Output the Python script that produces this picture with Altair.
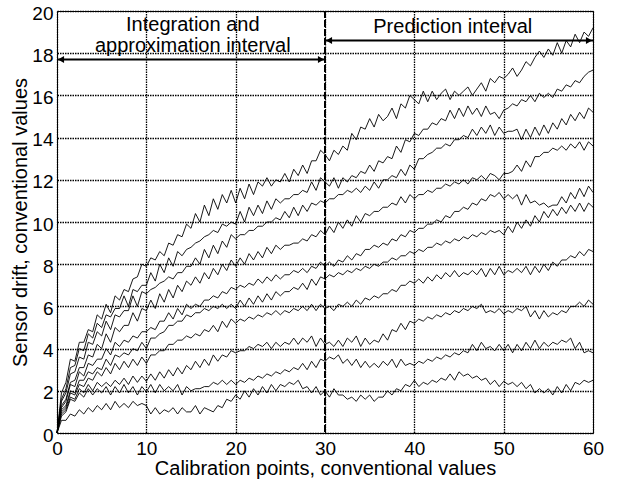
import altair as alt
import pandas as pd

# ---- data (x = 0, 0.5, ..., 60) ----
X_VALUES = [i / 2 for i in range(121)]

L1 = [0, 1.9, 2.4, 3.5, 3.4, 4.3, 4.3, 4.9, 4.8, 5.6,
      5.4, 6.1, 5.7, 6.5, 6.3, 6.8, 6.7, 7.3, 7.4, 8.0,
      7.9, 8.3, 8.2, 8.6, 8.4, 9.0, 8.9, 9.4, 9.3, 9.9,
      9.7, 10.4, 10.0, 10.8, 10.3, 11.1, 10.6, 11.3, 10.9, 11.5,
      10.9, 11.6, 11.1, 11.8, 11.3, 11.9, 11.7, 12.1, 11.7, 12.0,
      11.9, 12.3, 11.9, 12.5, 12.2, 12.7, 12.3, 12.9, 12.9, 13.4,
      13.2, 12.9, 13.4, 13.2, 13.6, 13.4, 14.2, 13.9, 14.5, 14.4,
      14.9, 14.5, 15.1, 14.8, 15.0, 15.4, 14.9, 15.6, 15.4, 16.0,
      15.8, 15.6, 16.2, 15.7, 16.2, 15.8, 16.1, 16.3, 15.8, 16.2,
      16.0, 16.2, 16.4, 16.0, 16.3, 16.6, 16.2, 16.8, 16.6, 16.9,
      16.8, 17.0, 17.3, 16.9, 17.2, 17.6, 17.4, 17.8, 18.1, 17.8,
      18.2, 17.9, 18.5, 18.0, 18.6, 18.3, 18.9, 18.5, 19.0, 18.8,
      19.2]
L2 = [0, 1.6, 2.1, 3.1, 3.2, 4.0, 3.9, 4.7, 4.5, 5.2,
      5.0, 5.6, 5.5, 5.9, 5.9, 6.5, 6.0, 6.8, 6.7, 7.0,
      7.0, 7.6, 7.2, 8.0, 7.6, 8.3, 7.9, 8.6, 8.4, 8.7,
      8.8, 9.0, 9.1, 9.3, 9.4, 9.6, 9.5, 9.9, 9.8, 10.0,
      9.9, 10.5, 10.0, 10.7, 10.3, 10.8, 10.4, 11.0, 10.6, 11.1,
      10.9, 11.1, 11.1, 11.3, 11.3, 11.5, 11.4, 11.9, 11.5, 12.1,
      11.9, 11.7, 12.1, 11.6, 12.1, 11.9, 12.2, 12.1, 12.4, 12.3,
      12.7, 12.4, 12.9, 12.8, 13.1, 13.0, 13.6, 13.3, 13.9, 13.8,
      14.2, 14.1, 14.4, 14.4, 14.7, 14.6, 14.9, 14.8, 15.3, 14.9,
      15.4, 15.0, 15.5, 15.1, 15.4, 15.0, 15.5, 15.1, 15.2, 14.9,
      15.3, 15.4, 15.6, 15.5, 15.8, 15.7, 16.0, 15.7, 16.1, 15.9,
      16.1, 15.9, 16.3, 16.2, 16.5, 16.4, 16.7, 16.6, 16.9, 17.1,
      17.2]
L3 = [0, 1.5, 1.9, 2.8, 2.9, 3.6, 3.5, 4.3, 4.2, 4.8,
      4.6, 5.3, 4.9, 5.6, 5.5, 5.8, 5.8, 6.5, 6.0, 6.7,
      6.6, 6.8, 6.9, 7.1, 7.2, 7.4, 7.3, 7.6, 7.6, 7.9,
      7.9, 8.3, 8.0, 8.7, 8.3, 8.9, 8.5, 9.1, 8.8, 9.4,
      9.2, 9.4, 9.4, 9.6, 9.6, 9.8, 9.8, 10.0, 10.0, 10.2,
      10.1, 10.5, 10.2, 10.7, 10.3, 10.8, 10.5, 10.9, 10.8, 11.0,
      10.9, 11.1, 11.1, 11.3, 11.3, 11.5, 11.4, 11.6, 11.4, 11.7,
      11.5, 11.9, 11.6, 12.0, 12.0, 12.2, 12.1, 12.5, 12.2, 12.7,
      12.5, 13.0, 13.0, 13.2, 13.3, 13.5, 13.5, 13.7, 13.6, 13.9,
      13.9, 14.1, 14.0, 14.4, 14.1, 14.5, 14.2, 14.6, 14.1, 14.5,
      14.2, 14.3, 14.3, 14.4, 13.9, 14.4, 14.0, 14.5, 14.1, 14.6,
      14.2, 14.7, 14.4, 14.9, 14.6, 15.1, 14.8, 15.2, 14.9, 15.4,
      15.2]
L4 = [0, 1.3, 1.6, 2.4, 2.5, 3.1, 3.1, 3.7, 3.6, 4.2,
      4.0, 4.7, 4.3, 5.0, 4.8, 5.1, 5.1, 5.7, 5.3, 5.9,
      5.8, 6.3, 5.9, 6.6, 6.2, 6.8, 6.4, 7.0, 6.7, 7.2,
      7.0, 7.4, 7.1, 7.6, 7.3, 7.8, 7.5, 8.0, 7.7, 8.2,
      7.9, 8.3, 8.0, 8.5, 8.2, 8.6, 8.3, 8.8, 8.5, 8.9,
      8.7, 8.9, 8.9, 9.0, 9.0, 9.2, 9.1, 9.4, 9.3, 9.6,
      9.4, 9.8, 9.5, 10.0, 9.7, 10.1, 9.8, 10.3, 10.0, 10.4,
      10.3, 10.5, 10.5, 10.7, 10.7, 10.9, 10.8, 11.2, 10.9, 11.3,
      11.1, 11.3, 11.3, 11.5, 11.4, 11.6, 11.6, 11.8, 11.7, 11.9,
      11.8, 12.0, 11.8, 12.1, 12.0, 12.2, 12.0, 12.3, 12.2, 12.0,
      12.3, 12.3, 12.4, 12.7, 12.4, 12.9, 12.6, 13.1, 13.1, 13.3,
      13.3, 13.5, 13.4, 13.6, 13.4, 13.7, 13.5, 13.8, 13.4, 13.8,
      13.6]
L5 = [0, 1.2, 1.5, 2.3, 2.2, 2.9, 2.7, 3.3, 3.2, 3.5,
      3.5, 4.0, 3.7, 4.3, 4.1, 4.4, 4.3, 4.6, 4.5, 4.8,
      4.8, 5.0, 4.9, 5.3, 5.3, 5.7, 5.4, 5.9, 5.6, 6.1,
      5.9, 6.1, 6.0, 6.3, 6.3, 6.5, 6.4, 6.7, 6.6, 6.9,
      6.8, 7.0, 6.9, 7.1, 7.0, 7.3, 7.1, 7.4, 7.2, 7.5,
      7.3, 7.5, 7.5, 7.7, 7.6, 7.8, 7.6, 7.9, 7.8, 8.1,
      7.9, 8.1, 7.9, 8.2, 8.1, 8.4, 8.2, 8.5, 8.4, 8.7,
      8.7, 8.9, 8.8, 9.0, 8.9, 9.2, 9.1, 9.4, 9.3, 9.6,
      9.5, 9.7, 9.7, 9.9, 9.9, 10.1, 10.0, 10.3, 10.2, 10.5,
      10.5, 10.7, 10.6, 10.9, 10.8, 11.1, 11.0, 11.3, 11.2, 11.4,
      11.1, 11.3, 11.1, 11.3, 10.8, 11.3, 10.9, 11.0, 10.8, 10.9,
      10.7, 10.8, 10.8, 11.2, 10.9, 11.4, 11.1, 11.6, 11.2, 11.7,
      11.4]
L6 = [0, 1.1, 1.3, 2.0, 1.9, 2.5, 2.5, 2.9, 2.8, 3.1,
      3.0, 3.5, 3.2, 3.7, 3.6, 3.8, 3.7, 4.0, 3.9, 4.3,
      4.0, 4.5, 4.5, 4.7, 4.8, 5.1, 5.1, 5.3, 5.3, 5.6,
      5.5, 5.7, 5.7, 5.9, 5.8, 6.0, 5.9, 6.1, 5.9, 6.1,
      5.9, 6.3, 6.0, 6.4, 6.1, 6.5, 6.2, 6.6, 6.3, 6.7,
      6.5, 6.7, 6.7, 6.9, 6.8, 7.1, 6.8, 7.3, 7.0, 7.4,
      7.3, 7.5, 7.4, 7.6, 7.5, 7.7, 7.6, 7.8, 7.7, 7.9,
      7.8, 8.0, 7.9, 8.1, 8.1, 8.3, 8.2, 8.4, 8.4, 8.6,
      8.5, 8.7, 8.6, 8.8, 8.8, 9.0, 8.9, 9.1, 9.0, 9.2,
      9.1, 9.3, 9.2, 9.4, 9.3, 9.5, 9.4, 9.6, 9.5, 9.6,
      9.4, 9.8, 9.5, 10.0, 9.7, 10.1, 9.8, 10.3, 10.0, 10.5,
      10.2, 10.6, 10.3, 10.7, 10.4, 10.8, 10.5, 10.9, 10.5, 10.9,
      10.7]
L7 = [0, 1.0, 1.2, 1.9, 1.8, 2.3, 2.2, 2.6, 2.5, 2.9,
      2.7, 3.1, 2.8, 3.3, 3.0, 3.4, 3.1, 3.5, 3.2, 3.6,
      3.3, 3.7, 3.7, 3.9, 3.9, 4.2, 4.2, 4.4, 4.4, 4.6,
      4.5, 4.7, 4.6, 4.9, 4.8, 5.1, 4.8, 5.3, 5.0, 5.4,
      5.2, 5.4, 5.3, 5.5, 5.4, 5.6, 5.5, 5.7, 5.6, 5.8,
      5.6, 5.8, 5.7, 5.9, 5.8, 6.0, 5.8, 6.1, 5.8, 6.1,
      5.9, 6.0, 5.8, 6.1, 6.0, 6.2, 6.0, 6.3, 6.1, 6.4,
      6.3, 6.5, 6.4, 6.6, 6.6, 6.8, 6.7, 7.0, 7.0, 7.2,
      7.1, 7.3, 7.1, 7.4, 7.2, 7.5, 7.3, 7.6, 7.4, 7.7,
      7.4, 7.6, 7.5, 7.7, 7.5, 7.8, 7.4, 7.8, 7.5, 7.9,
      7.5, 7.7, 7.6, 7.8, 7.6, 7.9, 7.5, 7.9, 7.6, 8.0,
      7.7, 8.1, 7.9, 8.2, 8.2, 8.4, 8.3, 8.6, 8.4, 8.7,
      8.6]
L8 = [0, 0.9, 1.1, 1.7, 1.6, 2.1, 1.9, 2.3, 2.0, 2.4,
      2.2, 2.4, 2.2, 2.5, 2.3, 2.6, 2.3, 2.7, 2.4, 2.7,
      2.45, 2.8, 2.5, 2.9, 2.6, 3.0, 2.7, 3.1, 2.8, 3.2,
      3.0, 3.4, 3.1, 3.5, 3.2, 3.7, 3.4, 3.7, 3.6, 3.9,
      3.8, 3.9, 3.9, 4.1, 4.0, 4.2, 4.1, 4.3, 4.0, 4.3,
      4.1, 4.3, 4.2, 4.5, 4.2, 4.5, 4.3, 4.6, 4.1, 4.5,
      4.2, 4.3, 4.1, 4.4, 4.1, 4.5, 4.3, 4.6, 4.1, 4.5,
      4.2, 4.4, 4.3, 4.7, 4.4, 4.9, 4.8, 5.2, 4.9, 5.3,
      5.2, 5.4, 5.3, 5.5, 5.4, 5.6, 5.5, 5.7, 5.6, 5.8,
      5.7, 5.9, 5.8, 6.0, 5.9, 6.1, 5.7, 5.8, 5.7, 5.9,
      5.65, 5.8, 5.7, 5.9, 5.8, 6.0, 5.5, 5.8, 5.4, 5.8,
      5.5, 5.7, 5.6, 5.8, 5.7, 6.0, 6.0, 6.2, 6.0, 6.3,
      6.1]
L9 = [0, 0.8, 1.0, 1.6, 1.5, 1.9, 1.7, 2.1, 1.8, 2.1,
      1.9, 2.2, 1.8, 2.2, 1.9, 2.3, 1.9, 2.2, 1.8, 2.2,
      1.95, 2.3, 1.9, 2.3, 2.0, 2.2, 2.0, 2.3, 1.8, 2.2,
      2.0, 2.1, 2.1, 2.2, 2.2, 2.4, 2.3, 2.5, 2.3, 2.5,
      2.3, 2.5, 2.4, 2.6, 2.5, 2.7, 2.6, 2.8, 2.7, 2.9,
      2.8, 3.0, 2.9, 3.1, 3.0, 3.3, 3.0, 3.4, 3.1, 3.5,
      3.4, 3.6, 3.5, 3.7, 3.3, 3.5, 3.2, 3.5, 3.1, 3.4,
      3.1, 3.3, 3.1, 3.4, 3.2, 3.5, 3.1, 3.5, 3.2, 3.3,
      3.2, 3.4, 3.3, 3.5, 3.4, 3.6, 3.5, 3.7, 3.6, 3.8,
      3.7, 3.9, 3.8, 4.2, 3.9, 4.3, 4.0, 4.1, 3.9, 4.2,
      3.9, 4.2, 3.8, 4.2, 3.9, 4.3, 4.0, 4.4, 4.0, 4.3,
      4.1, 4.3, 4.2, 4.4, 4.3, 4.5, 4.0, 4.3, 3.8, 3.9,
      3.8]
L10 = [0, 0.6, 0.6, 0.9, 0.8, 1.1, 0.9, 1.2, 1.0, 1.3,
       1.1, 1.4, 1.1, 1.5, 1.2, 1.4, 1.2, 1.5, 1.3, 1.4,
       1.3, 0.9, 1.2, 0.9, 1.1, 1.0, 1.2, 0.9, 1.2, 1.0,
       1.0, 1.3, 0.9, 1.2, 1.1, 1.0, 1.3, 1.2, 1.6, 1.5,
       1.8, 1.6, 2.0, 1.7, 2.1, 1.8, 2.2, 1.9, 2.3, 2.0,
       2.3, 2.2, 2.4, 2.3, 2.5, 2.1, 2.2, 1.9, 2.2, 1.8,
       2.0, 1.7, 2.1, 1.8, 1.8, 1.6, 1.7, 1.5, 1.8, 1.6,
       1.8, 1.5, 1.7, 1.7, 2.0, 1.8, 2.1, 2.0, 2.3, 2.2,
       2.5, 2.2, 2.4, 2.3, 2.5, 2.4, 2.6, 2.5, 2.8, 2.5,
       2.9, 2.7, 2.8, 2.6, 2.7, 2.5, 2.6, 2.3, 2.5, 2.2,
       2.45, 2.3, 2.4, 2.2, 2.4, 2.1, 2.3, 1.9, 2.1, 1.9,
       2.1, 1.8, 2.2, 1.9, 2.3, 2.0, 2.4, 2.3, 2.5, 2.4,
       2.5]

SERIES = [L1, L2, L3, L4, L5, L6, L7, L8, L9, L10]

X_TICKS = [0, 10, 20, 30, 40, 50, 60]
Y_TICKS = [0, 2, 4, 6, 8, 10, 12, 14, 16, 18, 20]
BOUNDARY = [30]

ARROW_START = [0, 30]
ARROW_END = [30, 60]
ARROW_LEVEL = [17.7, 18.6]

LABEL_TEXT = ["Integration and", "approximation interval", "Prediction interval"]
LABEL_X = [15.2, 15.2, 44.3]
LABEL_Y = [19.05, 18.06, 18.96]

# ---- tables ----
rows = []
for k, s in enumerate(SERIES):
    for xv, yv in zip(X_VALUES, s):
        rows.append({"x": xv, "y": yv, "s": "L%d" % (k + 1)})
df = pd.DataFrame(rows)

arrows = pd.DataFrame({"x": ARROW_START, "x2": ARROW_END, "y": ARROW_LEVEL})
heads_left = pd.DataFrame({"x": ARROW_START, "y": ARROW_LEVEL})
heads_right = pd.DataFrame({"x": ARROW_END, "y": ARROW_LEVEL})
labels = pd.DataFrame({"x": LABEL_X, "y": LABEL_Y, "t": LABEL_TEXT})
bound = pd.DataFrame({"x": BOUNDARY})

FONT = "Liberation Sans"
XT = "Calibration points, conventional values"
YT = "Sensor drift, conventional values"
xs = alt.Scale(domain=[0, 60], nice=False, zero=False)
ys = alt.Scale(domain=[0, 20], nice=False, zero=False)
x_axis = alt.Axis(
    values=X_TICKS, grid=True, gridDash=[1.5, 1], gridColor="black", gridOpacity=1, gridWidth=1.3,
    ticks=False, domain=False, labelPadding=6, labelFlush=False,
    labelFontSize=19, titleFontSize=20, titlePadding=0,
    labelFont=FONT, titleFont=FONT, titleFontWeight="normal",
    labelColor="black", titleColor="black")
y_axis = alt.Axis(
    values=Y_TICKS, grid=True, gridDash=[1.5, 1], gridColor="black", gridOpacity=1, gridWidth=1.3,
    ticks=False, domain=False, labelPadding=4, labelFlush=False,
    labelOffset=2, labelFontSize=19, titleFontSize=20, titlePadding=1,
    labelFont=FONT, titleFont=FONT, titleFontWeight="normal",
    labelColor="black", titleColor="black")


def X(field="x"):
    return alt.X(field + ":Q", scale=xs, axis=x_axis, title=XT)


def Y(field="y"):
    return alt.Y(field + ":Q", scale=ys, axis=y_axis, title=YT)


lines = alt.Chart(df).mark_line(color="black", strokeWidth=0.9).encode(
    x=X(), y=Y(), detail="s:N")

boundary = alt.Chart(bound).mark_rule(color="black", strokeWidth=2, strokeDash=[7, 2]).encode(
    x=X())

arrow_lines = alt.Chart(arrows).mark_rule(color="black", strokeWidth=2).encode(
    x=X(), x2="x2:Q", y=Y())

left_heads = alt.Chart(heads_left).mark_point(
    shape="triangle-left", filled=True, color="black", size=50, opacity=1, xOffset=4
).encode(x=X(), y=Y())

right_heads = alt.Chart(heads_right).mark_point(
    shape="triangle-right", filled=True, color="black", size=50, opacity=1, xOffset=-4
).encode(x=X(), y=Y())

texts = alt.Chart(labels).mark_text(
    font=FONT, fontSize=20, color="black", align="center", baseline="alphabetic"
).encode(x=X(), y=Y(), text="t:N")

chart = alt.layer(lines, boundary, arrow_lines, left_heads, right_heads, texts).properties(
    width=536, height=422,
    autosize=alt.AutoSizeParams(type="none"),
    padding={"left": 57, "top": 11, "right": 24, "bottom": 50},
    background="white",
).configure_view(stroke="black", strokeWidth=1)

chart.save("out.html", embed_options={"renderer": "svg", "actions": False})
